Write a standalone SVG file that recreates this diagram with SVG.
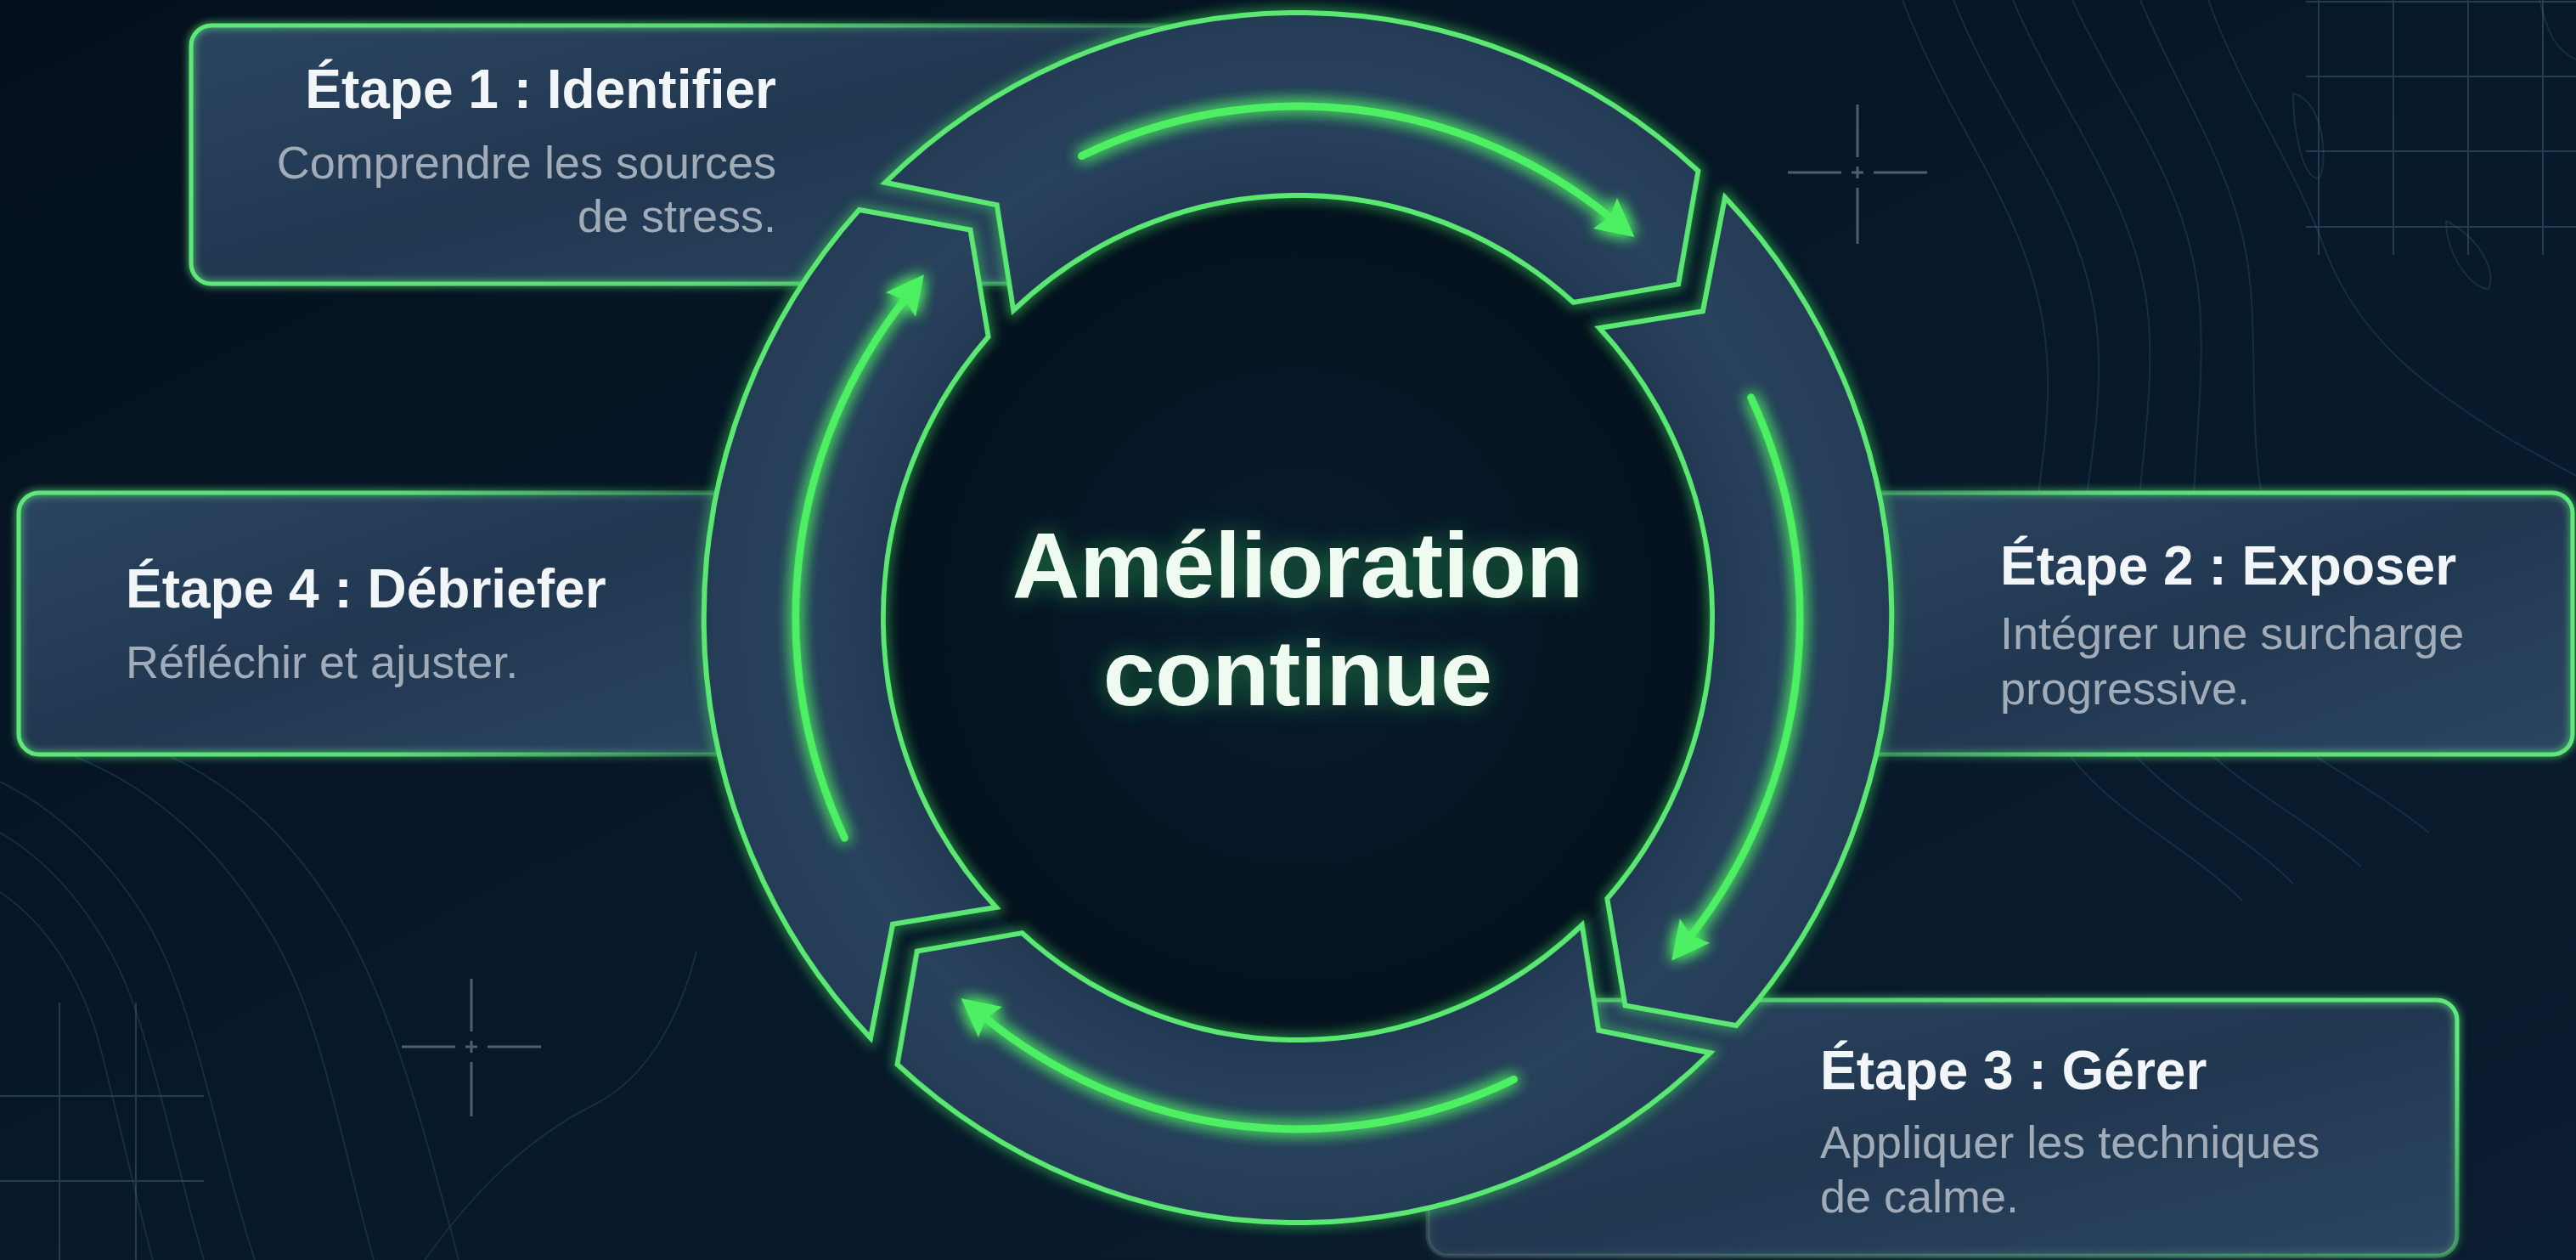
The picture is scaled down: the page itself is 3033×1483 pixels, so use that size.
<svg xmlns="http://www.w3.org/2000/svg" width="3033" height="1483" viewBox="0 0 3033 1483">
<defs>
  <style>
    .title{font-family:"Liberation Sans",Arial,Helvetica,sans-serif;font-weight:700;font-size:64px;fill:#f3f6f9}
    .sub{font-family:"Liberation Sans",Arial,Helvetica,sans-serif;font-size:54px;fill:#a1acb8}
    .center{font-family:"Liberation Sans",Arial,Helvetica,sans-serif;font-weight:700;font-size:110px;fill:#effbf1}
    .boxfill{fill:url(#boxFill)}
    .contour{fill:none;stroke:#2a4661;stroke-width:2;opacity:0.45}
    .grid{fill:none;stroke:#4a6580;stroke-width:2;opacity:0.45}
    .cross{fill:none;stroke:#6b7f93;stroke-width:3;opacity:0.7}
    .seg{fill:url(#segFill);stroke:#5be872;stroke-width:6;stroke-linejoin:miter}
    .seghalo{fill:none;stroke:#3fe35c;stroke-width:12;opacity:0.55}
    .flow{fill:none;stroke:#4df062;stroke-width:9;stroke-linecap:round}
  </style>
  <linearGradient id="bg" x1="0" y1="0" x2="1" y2="1">
    <stop offset="0" stop-color="#04101d"/>
    <stop offset="0.5" stop-color="#071829"/>
    <stop offset="1" stop-color="#0a1c2f"/>
  </linearGradient>
  <radialGradient id="disc" gradientUnits="userSpaceOnUse" cx="1528" cy="727" r="497">
    <stop offset="0" stop-color="#081a2c"/>
    <stop offset="1" stop-color="#05121f"/>
  </radialGradient>
  <linearGradient id="boxFill" x1="0" y1="0" x2="1" y2="1">
    <stop offset="0" stop-color="#2b4561"/>
    <stop offset="0.5" stop-color="#213750"/>
    <stop offset="1" stop-color="#2b4662"/>
  </linearGradient>
  <radialGradient id="segFill" gradientUnits="userSpaceOnUse" cx="1528" cy="727" r="712">
    <stop offset="0.68" stop-color="#213851"/>
    <stop offset="0.84" stop-color="#29425e"/>
    <stop offset="1" stop-color="#243c56"/>
  </radialGradient>
  <linearGradient id="strokeL" x1="0" y1="0" x2="1" y2="0">
    <stop offset="0" stop-color="#5ee879" stop-opacity="1"/>
    <stop offset="0.5" stop-color="#5ee879" stop-opacity="0.9"/>
    <stop offset="1" stop-color="#5ee879" stop-opacity="0.2"/>
  </linearGradient>
  <linearGradient id="strokeR" x1="1" y1="0" x2="0" y2="0">
    <stop offset="0" stop-color="#5ee879" stop-opacity="1"/>
    <stop offset="0.6" stop-color="#5ee879" stop-opacity="0.9"/>
    <stop offset="1" stop-color="#5ee879" stop-opacity="0.3"/>
  </linearGradient>
  <linearGradient id="strokeTR" x1="0" y1="1" x2="0.75" y2="0">
    <stop offset="0" stop-color="#6f8a86" stop-opacity="0.25"/>
    <stop offset="0.55" stop-color="#5ee879" stop-opacity="0.5"/>
    <stop offset="1" stop-color="#5ee879" stop-opacity="1"/>
  </linearGradient>
  <filter id="glow" x="-10%" y="-15%" width="120%" height="130%">
    <feGaussianBlur in="SourceGraphic" stdDeviation="5" result="b"/>
    <feMerge><feMergeNode in="b"/><feMergeNode in="SourceGraphic"/></feMerge>
  </filter>
  <filter id="halo" filterUnits="userSpaceOnUse" x="0" y="0" width="3033" height="1483">
    <feGaussianBlur stdDeviation="7"/>
  </filter>
  <filter id="flowGlow" filterUnits="userSpaceOnUse" x="0" y="0" width="3033" height="1483">
    <feGaussianBlur in="SourceGraphic" stdDeviation="9" result="b"/>
    <feMerge><feMergeNode in="b"/><feMergeNode in="b"/><feMergeNode in="SourceGraphic"/></feMerge>
  </filter>
  <filter id="textGlow" x="-20%" y="-40%" width="140%" height="180%">
    <feGaussianBlur in="SourceAlpha" stdDeviation="14" result="b"/>
    <feFlood flood-color="#2fd35a" flood-opacity="0.5"/>
    <feComposite in2="b" operator="in" result="g"/>
    <feMerge><feMergeNode in="g"/><feMergeNode in="SourceGraphic"/></feMerge>
  </filter>
  <marker id="ah" markerUnits="userSpaceOnUse" markerWidth="64" markerHeight="64" viewBox="-5 -32 58 64" refX="8" refY="0" orient="auto">
    <path d="M0,-23 L45,0 L0,23 L7,0 Z" fill="#4df062"/>
  </marker>
  <path id="segPath" d="M1033.4,214.8 A712,712 0 0 1 2008.1,201.2 L1984.4,334.4 L1858.6,355.9 A497,497 0 0 0 1187.1,365.3 L1167.3,241.3 Z"/>
  <path id="flowPath" d="M1268.8,183.6 A602,602 0 0 1 1902.8,255.9"/>
</defs>

<rect width="3033" height="1483" fill="url(#bg)"/>

<g id="background">
  <path class="contour" d="M2240,0 C2300,160 2400,260 2410,420 C2420,560 2360,700 2400,820 C2440,940 2560,980 2640,1060"/>
  <path class="contour" d="M2300,0 C2360,150 2460,250 2470,400 C2480,540 2420,680 2460,800 C2500,920 2620,960 2700,1040"/>
  <path class="contour" d="M2370,0 C2430,140 2520,240 2530,380 C2540,520 2490,660 2530,780 C2570,900 2690,940 2780,1020"/>
  <path class="contour" d="M2440,0 C2500,130 2580,220 2590,360 C2600,500 2560,640 2600,760 C2640,860 2760,900 2860,980"/>
  <path class="contour" d="M2520,0 C2570,120 2640,210 2650,340 C2660,470 2640,590 2700,680 C2760,760 2860,780 2960,860"/>
  <path class="contour" d="M2600,0 C2640,110 2700,190 2740,300 C2780,400 2860,460 2960,520 L3033,560"/>
  <path class="contour" d="M2700,110 C2740,120 2740,200 2730,210 C2710,210 2700,150 2700,110 Z"/>
  <path class="contour" d="M2880,260 C2920,280 2940,320 2930,340 C2910,340 2880,300 2880,260 Z"/>
  <path class="contour" d="M2990,0 C3000,40 3010,60 3033,70"/>
  <path class="contour" d="M0,920 C80,960 160,1040 200,1140 C240,1240 260,1360 300,1483"/>
  <path class="contour" d="M0,980 C70,1020 130,1100 160,1190 C190,1280 210,1380 240,1483"/>
  <path class="contour" d="M0,1050 C60,1090 100,1160 120,1240 C140,1320 160,1410 180,1483"/>
  <path class="contour" d="M60,880 C180,920 260,1000 320,1100 C380,1200 400,1340 440,1483"/>
  <path class="contour" d="M120,860 C260,900 340,980 400,1080 C460,1180 500,1330 540,1483"/>
  <path class="contour" d="M500,1483 C560,1400 620,1340 700,1300 C760,1270 800,1200 820,1120"/>
  <path class="grid" d="M2730,0 V300 M2818,0 V300 M2906,0 V300 M2994,0 V300 M2715,2 H3033 M2715,90 H3033 M2715,178 H3033 M2715,267 H3033"/>
  <path class="grid" d="M70,1180 V1483 M160,1180 V1483 M0,1290 H240 M0,1390 H240" opacity="0.25"/>
  <path class="cross" d="M2187,123 V185 M2187,221 V287 M2105,203 H2168 M2206,203 H2269 M2180,203 H2194 M2187,196 V210"/>
  <path class="cross" d="M555,1152 V1214 M555,1250 V1314 M473,1232 H536 M574,1232 H637 M548,1232 H562 M555,1225 V1239"/>
</g>

<g id="node-step1">
  <rect class="boxfill" x="225" y="30" width="1180" height="304" rx="24"/>
  <rect x="225" y="30" width="1180" height="304" rx="24" fill="none" stroke="url(#strokeL)" stroke-width="5" filter="url(#glow)"/>
  <text class="title" x="914" y="127" text-anchor="end">Étape 1 : Identifier</text>
  <text class="sub" x="914" y="210" text-anchor="end">Comprendre les sources</text>
  <text class="sub" x="914" y="273" text-anchor="end">de stress.</text>
</g>

<g id="node-step4">
  <rect class="boxfill" x="22" y="580" width="900" height="308" rx="24"/>
  <rect x="22" y="580" width="900" height="308" rx="24" fill="none" stroke="url(#strokeL)" stroke-width="5" filter="url(#glow)"/>
  <text class="title" x="148" y="715">Étape 4 : Débriefer</text>
  <text class="sub" x="148" y="798">Réfléchir et ajuster.</text>
</g>

<g id="node-step2">
  <rect class="boxfill" x="2140" y="580" width="889" height="308" rx="24"/>
  <rect x="2140" y="580" width="889" height="308" rx="24" fill="none" stroke="url(#strokeR)" stroke-width="5" filter="url(#glow)"/>
  <text class="title" x="2355" y="688">Étape 2 : Exposer</text>
  <text class="sub" x="2355" y="764">Intégrer une surcharge</text>
  <text class="sub" x="2355" y="829">progressive.</text>
</g>

<g id="node-step3">
  <rect class="boxfill" x="1681" y="1177" width="1212" height="301" rx="24"/>
  <rect x="1681" y="1177" width="1212" height="301" rx="24" fill="none" stroke="url(#strokeTR)" stroke-width="5" filter="url(#glow)"/>
  <text class="title" x="2143" y="1282">Étape 3 : Gérer</text>
  <text class="sub" x="2143" y="1363">Appliquer les techniques</text>
  <text class="sub" x="2143" y="1427">de calme.</text>
</g>

<g id="connectors" transform="matrix(0.982 0 0 1 27.5 0)">
  <circle cx="1528" cy="727" r="500" fill="url(#disc)"/>
  <g filter="url(#halo)">
    <use href="#segPath" class="seghalo"/>
    <use href="#segPath" class="seghalo" transform="rotate(90 1528 727)"/>
    <use href="#segPath" class="seghalo" transform="rotate(180 1528 727)"/>
    <use href="#segPath" class="seghalo" transform="rotate(270 1528 727)"/>
  </g>
  <g id="arrow-1-2"><use href="#segPath" class="seg"/></g>
  <g id="arrow-2-3"><use href="#segPath" class="seg" transform="rotate(90 1528 727)"/></g>
  <g id="arrow-3-4"><use href="#segPath" class="seg" transform="rotate(180 1528 727)"/></g>
  <g id="arrow-4-1"><use href="#segPath" class="seg" transform="rotate(270 1528 727)"/></g>
  <g filter="url(#flowGlow)">
    <use href="#flowPath" class="flow" marker-end="url(#ah)"/>
    <use href="#flowPath" class="flow" marker-end="url(#ah)" transform="rotate(90 1528 727)"/>
    <use href="#flowPath" class="flow" marker-end="url(#ah)" transform="rotate(180 1528 727)"/>
    <use href="#flowPath" class="flow" marker-end="url(#ah)" transform="rotate(270 1528 727)"/>
  </g>
</g>

<g id="node-center" filter="url(#textGlow)">
  <text class="center" x="1528" y="703" text-anchor="middle">Amélioration</text>
  <text class="center" x="1528" y="830" text-anchor="middle">continue</text>
</g>
</svg>
